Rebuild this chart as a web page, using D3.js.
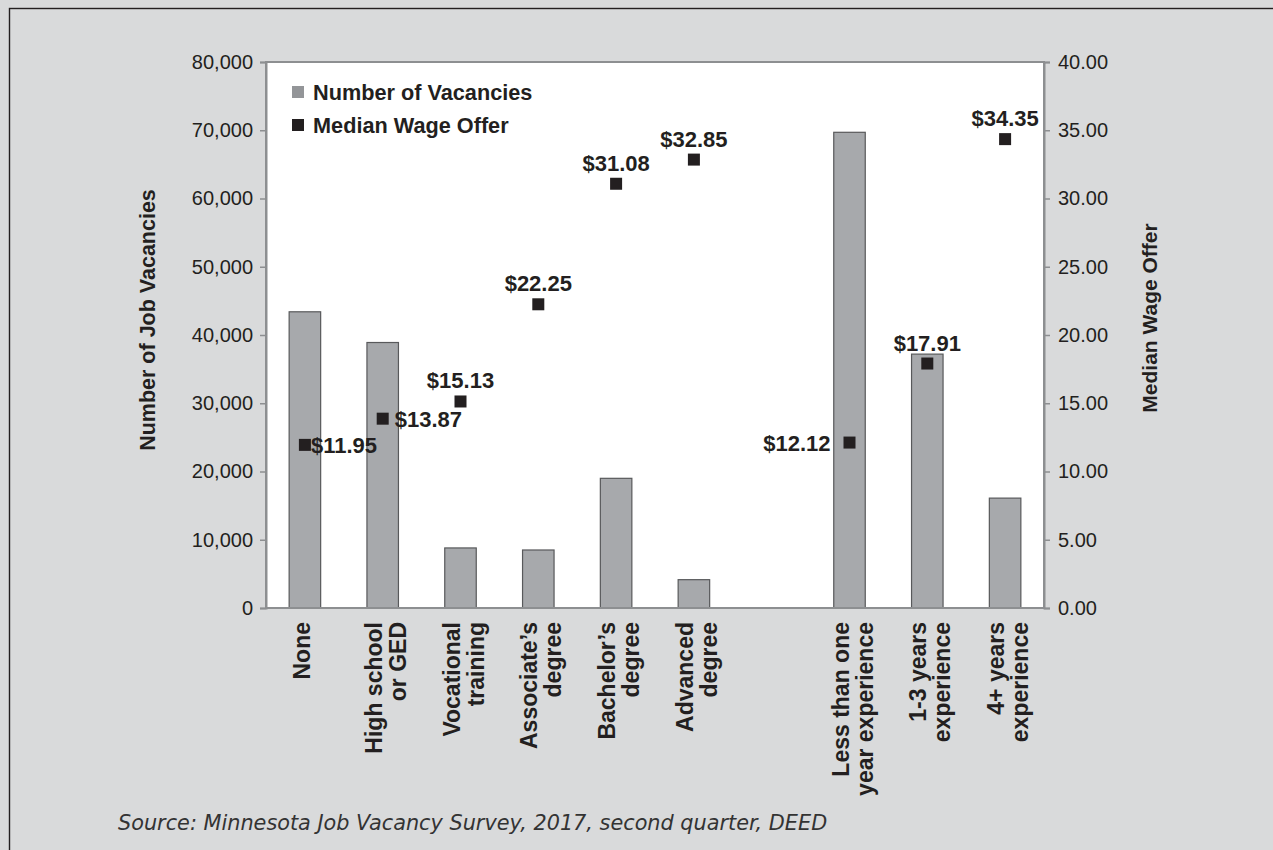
<!DOCTYPE html>
<html><head><meta charset="utf-8">
<script src="https://cdn.jsdelivr.net/npm/d3@7/dist/d3.min.js"></script>
<style>body{margin:0;background:#d9dadb;} svg{display:block}</style>
</head><body><svg id="c" width="1273" height="850"></svg>
<script>
const categoryLines = [["None"],["High school","or GED"],["Vocational","training"],["Associate’s","degree"],["Bachelor’s","degree"],["Advanced","degree"],[],["Less than one","year experience"],["1-3 years","experience"],["4+ years","experience"]];
const categoryKeys = ["none","hs","voc","assoc","bach","adv","gap","lt1","y13","y4"];
const vacancies = [43400,38900,8800,8500,19000,4150,null,69700,37200,16100];
const wages = [11.95,13.87,15.13,22.25,31.08,32.85,null,12.12,17.91,34.35];
const wageLabelSide = ["right","right","above","above","above","above",null,"left","above","above"];
const leftTicks = [0,10000,20000,30000,40000,50000,60000,70000,80000];
const rightTicks = [0,5,10,15,20,25,30,35,40];
const legendItems = ["Number of Vacancies","Median Wage Offer"];
const leftTitle = "Number of Job Vacancies";
const rightTitle = "Median Wage Offer";
const sourceText = "Source: Minnesota Job Vacancy Survey, 2017, second quarter, DEED";

const svg = d3.select("#c");
const W = 1273, H = 850;
const P = {l:266, r:1044, t:62, b:608};
const barFill = "#a7a9ac", barStroke = "#58595b", markFill = "#231f20", axisCol = "#8d8f91", txt = "#231f20";
const FONT = "'Liberation Sans', Arial, Helvetica, sans-serif";

svg.append("rect").attr("x",0).attr("y",0).attr("width",W).attr("height",H).attr("fill","#d9dadb");
svg.append("rect").attr("x",9.5).attr("y",8.5).attr("width",W+50).attr("height",H+50).attr("fill","none").attr("stroke","#231f20").attr("stroke-width",1.4);

const x = d3.scaleBand().domain(categoryKeys).range([P.l,P.r]).paddingInner(0.595).paddingOuter(0.2975);
const yL = d3.scaleLinear().domain([0,80000]).range([P.b,P.t]);
const yR = d3.scaleLinear().domain([0,40]).range([P.b,P.t]);

svg.append("rect").attr("x",P.l).attr("y",P.t).attr("width",P.r-P.l).attr("height",P.b-P.t).attr("fill","#fff");

// bars
const data = categoryKeys.map((k,i)=>({k,i,v:vacancies[i],w:wages[i],side:wageLabelSide[i],lines:categoryLines[i]}));
svg.append("g").selectAll("rect").data(data.filter(d=>d.v!=null)).join("rect")
  .attr("x",d=>x(d.k)).attr("width",x.bandwidth())
  .attr("y",d=>yL(d.v)).attr("height",d=>yL(0)-yL(d.v))
  .attr("fill",barFill).attr("stroke",barStroke).attr("stroke-width",1.2);

// plot border
svg.append("rect").attr("x",P.l).attr("y",P.t).attr("width",P.r-P.l).attr("height",P.b-P.t).attr("fill","none").attr("stroke",axisCol).attr("stroke-width",2);

// axes
const gL = svg.append("g").attr("transform",`translate(${P.l},0)`)
  .call(d3.axisLeft(yL).tickValues(leftTicks).tickFormat(d3.format(",")).tickSize(6).tickPadding(7));
const gR = svg.append("g").attr("transform",`translate(${P.r},0)`)
  .call(d3.axisRight(yR).tickValues(rightTicks).tickFormat(d3.format(".2f")).tickSize(6).tickPadding(8));
[gL,gR].forEach(g=>{
  g.select(".domain").attr("stroke",axisCol).attr("stroke-width",2);
  g.selectAll(".tick line").attr("stroke",axisCol).attr("stroke-width",1.5);
  g.selectAll(".tick text").attr("font-family",FONT).attr("font-size",20).attr("fill",txt);
});

// markers
const ms = 12;
const pts = data.filter(d=>d.w!=null);
svg.append("g").selectAll("rect").data(pts).join("rect")
  .attr("x",d=>x(d.k)+x.bandwidth()/2-ms/2).attr("y",d=>yR(d.w)-ms/2)
  .attr("width",ms).attr("height",ms).attr("fill",markFill);

// wage labels
svg.append("g").selectAll("text").data(pts).join("text")
  .attr("font-family",FONT).attr("font-weight","bold").attr("font-size",22).attr("fill",txt)
  .attr("x",d=>{const c=x(d.k)+x.bandwidth()/2; return d.side==="right"?c+(d.i===0?6:12):d.side==="left"?c-19:c;})
  .attr("y",d=>d.side==="above"?yR(d.w)-13:yR(d.w)+8)
  .attr("text-anchor",d=>d.side==="right"?"start":d.side==="left"?"end":"middle")
  .text(d=>"$"+d3.format(".2f")(d.w));

// category labels
const cg = svg.append("g");
data.forEach(d=>{
  const c = x(d.k)+x.bandwidth()/2;
  const n = d.lines.length;
  d.lines.forEach((ln,j)=>{
    const off = n===1 ? 5 : (j===0 ? -1 : 23);
    cg.append("text").attr("transform",`translate(${c+off},622) rotate(-90)`)
      .attr("text-anchor","end").attr("font-family",FONT).attr("font-weight","bold")
      .attr("font-size",23).attr("fill",txt).text(ln);
  });
});

// axis titles
svg.append("text").attr("transform",`translate(155,320) rotate(-90)`).attr("text-anchor","middle")
  .attr("font-family",FONT).attr("font-weight","bold").attr("font-size",21.5).attr("fill",txt).text(leftTitle);
svg.append("text").attr("transform",`translate(1157,318) rotate(-90)`).attr("text-anchor","middle")
  .attr("font-family",FONT).attr("font-weight","bold").attr("font-size",21).attr("fill",txt).text(rightTitle);

// legend
const lg = svg.append("g");
legendItems.forEach((t,i)=>{
  const yy = 92 + i*33;
  lg.append("rect").attr("x",292).attr("y",yy-6).attr("width",12).attr("height",12).attr("fill",i===0?"#939598":markFill);
  lg.append("text").attr("x",313).attr("y",yy+7.5).attr("font-family",FONT).attr("font-weight","bold").attr("font-size",21.7).attr("fill",txt).text(t);
});

// source
svg.append("text").attr("x",118).attr("y",830).attr("font-family","'DejaVu Sans', Verdana, sans-serif").attr("font-style","italic")
  .attr("font-size",20.8).attr("fill","#333").text(sourceText);
</script></body></html>
